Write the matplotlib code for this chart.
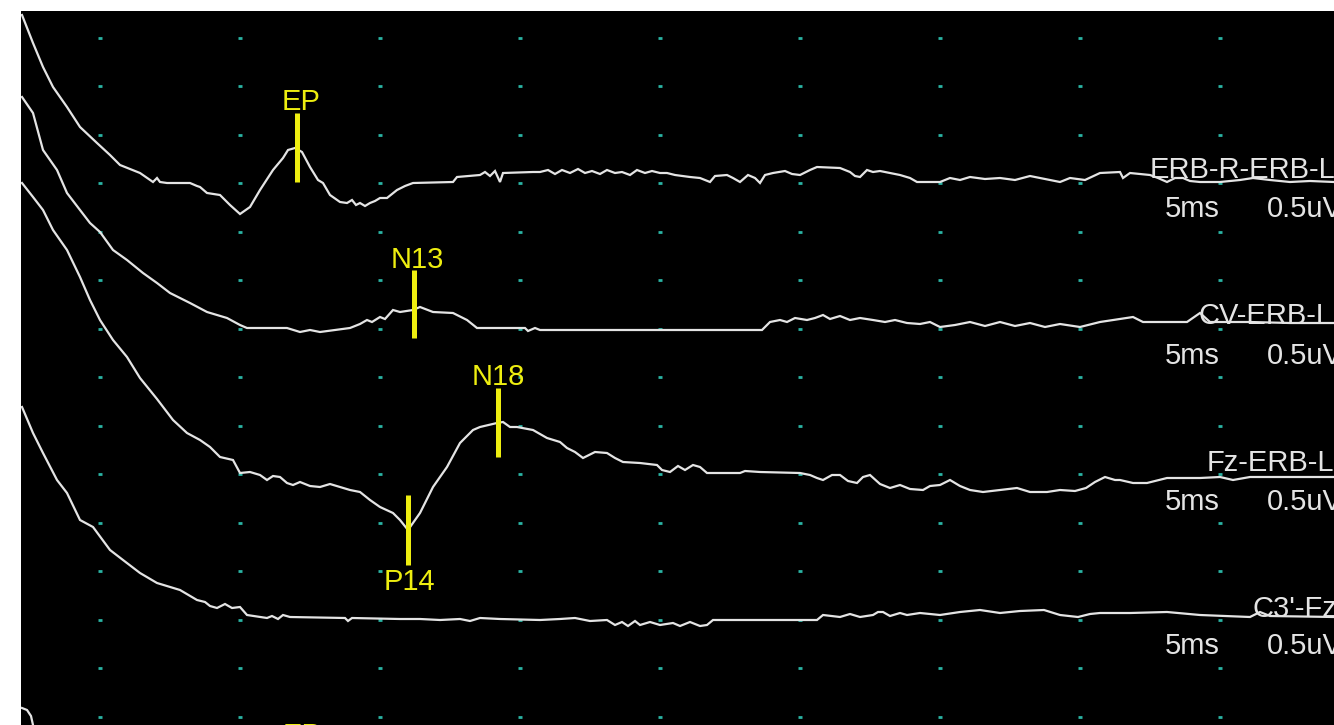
#!/usr/bin/env python3
"""
Recreate an SSEP (median nerve) screen capture: four stacked traces on a
black screen with a dotted grid, yellow peak cursors and channel labels.
Coordinates are in screen pixels (x to the right, y downward).
"""

import numpy as np
import matplotlib.pyplot as plt

# ---- trace data (screen px) --------------------------------------------
erb_x = [22, 33, 43, 53, 67, 80, 97, 110, 120, 140, 153, 157, 160, 167, 190, 197, 200, 207, 220, 230,
         240, 250, 260, 273, 283, 288, 295, 302, 310, 318, 323, 330, 340, 347, 352, 356, 360, 365, 370, 375,
         380, 387, 397, 405, 413, 453, 457, 480, 485, 490, 495, 500, 503, 533, 540, 548, 555, 562, 570, 578,
         585, 592, 600, 607, 615, 622, 630, 637, 645, 652, 660, 667, 675, 690, 700, 710, 715, 727, 733, 740,
         748, 755, 760, 765, 773, 785, 792, 800, 810, 817, 840, 850, 855, 860, 867, 873, 880, 900, 910, 917,
         940, 950, 960, 970, 985, 1000, 1015, 1030, 1045, 1060, 1070, 1085, 1100, 1120, 1123, 1130, 1150,
         1158, 1167, 1175, 1183, 1190, 1200, 1220, 1240, 1253, 1270, 1290, 1310, 1334]
erb_y = [15, 43, 67, 87, 107, 127, 143, 155, 165, 173, 182, 178, 182, 183, 183, 186, 187, 193, 195, 205,
         214, 207, 190, 170, 158, 150, 148, 152, 167, 180, 183, 195, 202, 203, 200, 205, 203, 206, 203, 201,
         198, 198, 190, 186, 183, 182, 177, 175, 172, 176, 171, 182, 173, 172, 172, 170, 174, 170, 173, 169,
         173, 171, 174, 170, 173, 172, 175, 170, 173, 171, 173, 173, 175, 177, 178, 182, 176, 175, 178, 182,
         175, 178, 183, 175, 173, 171, 174, 175, 170, 167, 168, 172, 176, 177, 170, 172, 171, 175, 178, 182,
         182, 178, 180, 177, 179, 178, 180, 176, 179, 182, 178, 180, 173, 172, 178, 173, 175,
         178, 182, 178, 178, 181, 182, 182, 180, 178, 180, 182, 181, 182]

cv_x = [22, 33, 43, 57, 67, 80, 90, 100, 113, 127, 143, 157, 170, 190, 207, 227, 240, 247, 287, 300,
        310, 320, 335, 350, 360, 367, 372, 380, 385, 393, 400, 413, 420, 433, 453, 467, 477, 525, 528, 535,
        540, 762, 770, 780, 787, 795, 807, 815, 823, 830, 840, 850, 860, 873, 885, 895, 907, 920, 930, 940,
        955, 970, 985, 1000, 1015, 1030, 1045, 1060, 1080, 1100, 1133, 1143, 1167, 1187, 1200, 1210, 1250,
        1290, 1334]
cv_y = [97, 113, 150, 170, 193, 210, 223, 232, 250, 260, 273, 283, 293, 303, 312, 318, 325, 328, 328, 332,
        330, 332, 330, 328, 324, 320, 322, 317, 319, 310, 312, 310, 307, 312, 313, 320, 328, 328, 331, 328,
        330, 330, 322, 320, 322, 318, 320, 318, 315, 319, 316, 320, 318, 320, 322, 320, 323, 324, 322, 327,
        325, 322, 326, 322, 326, 323, 327, 324, 327, 322, 317, 322, 322, 322, 313, 322, 322,
        323, 323]

fz_x = [22, 33, 43, 53, 67, 80, 90, 100, 113, 127, 140, 157, 173, 187, 200, 210, 220, 233, 240, 250,
        260, 267, 273, 280, 287, 293, 300, 310, 320, 330, 340, 350, 360, 370, 380, 393, 400, 408, 420, 433,
        447, 460, 473, 480, 497, 503, 510, 517, 533, 547, 560, 567, 575, 583, 595, 607, 615, 623, 640, 657,
        662, 670, 678, 685, 693, 700, 707, 740, 745, 760, 800, 810, 817, 823, 832, 840, 848, 857, 863, 870,
        880, 890, 900, 910, 923, 930, 940, 950, 960, 970, 983, 1000, 1017, 1030, 1047, 1060, 1075, 1086,
        1095, 1105, 1115, 1120, 1133, 1147, 1167, 1200, 1220, 1233, 1250, 1334]
fz_y = [183, 197, 210, 230, 250, 277, 300, 320, 340, 357, 378, 399, 420, 433, 440, 447, 457, 460, 473, 472,
        475, 480, 476, 477, 483, 485, 482, 486, 487, 484, 487, 490, 492, 500, 507, 513, 520, 530, 513, 487,
        467, 443, 430, 427, 423, 422, 427, 427, 430, 438, 442, 448, 452, 458, 452, 453, 458, 462, 463, 465,
        470, 472, 466, 470, 465, 467, 473, 473, 471, 472, 473, 475, 478, 480, 475, 475, 481, 483, 477, 475,
        484, 488, 485, 489, 490, 486, 485, 480, 486, 490, 492, 490, 488, 492, 492, 490, 491, 488,
        482, 477, 480, 480, 483, 483, 478, 478, 477, 480, 477, 477]

c3_x = [22, 33, 43, 57, 67, 80, 93, 110, 123, 140, 157, 180, 197, 205, 210, 217, 225, 232, 240, 247,
        267, 272, 278, 283, 290, 345, 348, 352, 400, 420, 440, 460, 470, 480, 500, 540, 560, 575, 590, 607,
        615, 622, 628, 635, 640, 650, 660, 673, 680, 690, 700, 707, 713, 760, 790, 817, 823, 840, 850, 860,
        873, 878, 883, 890, 900, 907, 920, 940, 960, 980, 1000, 1020, 1044, 1060, 1078, 1090, 1100, 1130,
        1167, 1200, 1250, 1260, 1270, 1334]
c3_y = [407, 433, 453, 480, 493, 520, 527, 550, 560, 573, 583, 590, 600, 602, 606, 608, 604, 608, 607, 615,
        618, 616, 619, 615, 617, 618, 621, 618, 619, 619, 620, 619, 621, 618, 619, 620, 619, 618, 621, 620,
        625, 622, 626, 621, 625, 622, 625, 623, 626, 622, 626, 625, 620, 620, 620, 620, 615, 617, 614, 617,
        615, 612, 612, 616, 613, 615, 613, 615, 612, 610, 613, 611, 610, 615, 617, 614, 613, 613,
        612, 615, 617, 612, 616, 617]

# start of the next (cut off) page, bottom left
next_x = [22, 27, 31, 33]
next_y = [708, 710, 716, 725]

channels = ["ERB-R-ERB-L", "CV-ERB-L", "Fz-ERB-L", "C3'-Fz"]
label_x = [1150, 1198, 1207, 1252]
label_y = [178, 324, 471, 617]
scale_y = [217, 364, 510, 654]
sweep_txt = "5ms"
gain_txt = "0.5uV"

# peak cursors: name, x, bar top, bar bottom, text baseline
peaks = ["EP", "N13", "N18", "P14"]
peak_x = [297, 414, 498, 408]
peak_top = [113, 270, 388, 495]
peak_bot = [182, 338, 457, 565]
peak_txt_y = [110, 268, 385, 590]
peak_txt_x = [301, 417, 498, 409]

BG = "black"
TRACE = "#e4e4e4"
YELLOW = "#eeee10"
DOT = "#2ab3a3"
FONT = ["Liberation Sans", "DejaVu Sans"]
FS = 21

fig = plt.figure(figsize=(13.34, 7.25), dpi=100, facecolor="white")
ax = fig.add_axes([21 / 1334, 0, 1313 / 1334, 714 / 725])
ax.set_facecolor(BG)
ax.set_xlim(21, 1334)
ax.set_ylim(725, 11)
ax.set_axis_off()
ax.add_patch(plt.Rectangle((21, 11), 1313, 714, color=BG, zorder=0))

# dotted grid (one division = 140 px x 48.5 px)
gx, gy = np.meshgrid(np.arange(100, 1300, 140), np.arange(37.5, 725, 48.5))
ax.plot(gx.ravel(), gy.ravel(), ls="none", marker="_", ms=3.4, mew=2.0,
        color=DOT, zorder=1)

for xs, ys in [(erb_x, erb_y), (cv_x, cv_y), (fz_x, fz_y), (c3_x, c3_y), (next_x, next_y)]:
    ax.plot(xs, ys, color=TRACE, lw=1.6, zorder=2, solid_joinstyle="miter")

for name, lx, ly, sy in zip(channels, label_x, label_y, scale_y):
    ax.text(lx, ly, name, color=TRACE, fontsize=FS, family=FONT, va="baseline", zorder=3)
    ax.text(1165, sy, sweep_txt, color=TRACE, fontsize=FS, family=FONT, va="baseline", zorder=3)
    ax.text(1267, sy, gain_txt, color=TRACE, fontsize=FS, family=FONT, va="baseline", zorder=3)

for name, px, top, bot, tx, ty in zip(peaks, peak_x, peak_top, peak_bot, peak_txt_x, peak_txt_y):
    ax.plot([px, px], [top, bot], color=YELLOW, lw=3.6, solid_capstyle="butt", zorder=4)
    ax.text(tx, ty, name, color=YELLOW, fontsize=FS, family=FONT, ha="center",
            va="baseline", zorder=4)

# cut-off marker of the next page (only its top shows, as on the screen)
ax.text(302, 744, "EP", color=YELLOW, fontsize=FS, family=FONT, ha="center",
        va="baseline", zorder=4)

fig.savefig("out.png", dpi=100, facecolor="white")
